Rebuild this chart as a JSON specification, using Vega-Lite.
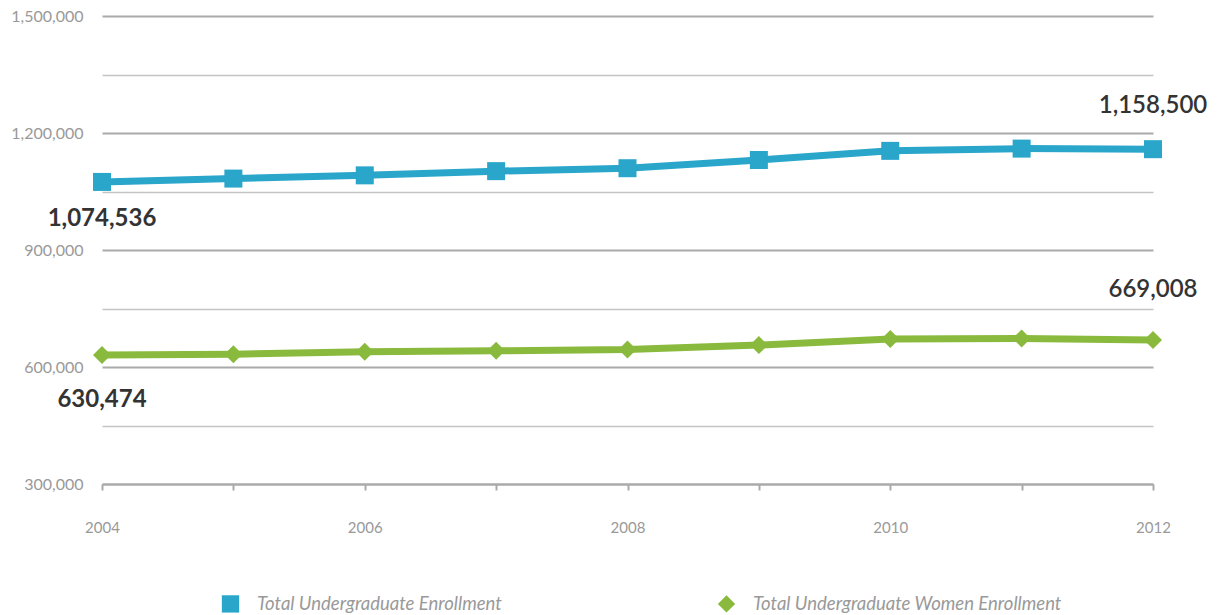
{
  "$schema": "https://vega.github.io/schema/vega-lite/v6.json",
  "width": 1051,
  "height": 468,
  "padding": {"left": 10, "top": 8, "right": 0, "bottom": 0},
  "background": "white",
  "config": {"view": {"stroke": null}},
  "data": {"values": [
      {"year": 2004, "series": "Total Undergraduate Enrollment", "value": 1074536},
      {"year": 2005, "series": "Total Undergraduate Enrollment", "value": 1083100},
      {"year": 2006, "series": "Total Undergraduate Enrollment", "value": 1091400},
      {"year": 2007, "series": "Total Undergraduate Enrollment", "value": 1102200},
      {"year": 2008, "series": "Total Undergraduate Enrollment", "value": 1109700},
      {"year": 2009, "series": "Total Undergraduate Enrollment", "value": 1130800},
      {"year": 2010, "series": "Total Undergraduate Enrollment", "value": 1154200},
      {"year": 2011, "series": "Total Undergraduate Enrollment", "value": 1160000},
      {"year": 2012, "series": "Total Undergraduate Enrollment", "value": 1158500},
      {"year": 2004, "series": "Total Undergraduate Women Enrollment", "value": 630474},
      {"year": 2005, "series": "Total Undergraduate Women Enrollment", "value": 633000},
      {"year": 2006, "series": "Total Undergraduate Women Enrollment", "value": 639000},
      {"year": 2007, "series": "Total Undergraduate Women Enrollment", "value": 641500},
      {"year": 2008, "series": "Total Undergraduate Women Enrollment", "value": 644900},
      {"year": 2009, "series": "Total Undergraduate Women Enrollment", "value": 656200},
      {"year": 2010, "series": "Total Undergraduate Women Enrollment", "value": 671600},
      {"year": 2011, "series": "Total Undergraduate Women Enrollment", "value": 673100},
      {"year": 2012, "series": "Total Undergraduate Women Enrollment", "value": 669008}
  ]},
  "layer": [
    {
      "mark": {"type": "line", "strokeWidth": 7},
      "encoding": {
        "x": {
          "field": "year", "type": "quantitative",
          "scale": {"domain": [2004, 2012], "nice": false, "zero": false},
          "axis": {
            "title": null,
            "values": [2004, 2005, 2006, 2007, 2008, 2009, 2010, 2011, 2012],
            "labelExpr": "datum.value % 2 === 0 ? datum.value + '' : ''",
            "labelFlush": false,
            "grid": false,
            "domainColor": "#aaaaaa",
            "domainWidth": 2,
            "tickColor": "#aaaaaa",
            "tickWidth": 2,
            "tickSize": 6,
            "labelPadding": 30,
            "labelFontSize": 15,
            "labelColor": "#999999",
            "labelFont": "Lato"
          }
        },
        "y": {
          "field": "value", "type": "quantitative",
          "scale": {"domain": [300000, 1500000], "nice": false, "zero": false},
          "axis": {
            "title": null,
            "values": [300000, 450000, 600000, 750000, 900000, 1050000, 1200000, 1350000, 1500000],
            "labelExpr": "datum.value % 300000 === 0 ? format(datum.value, ',') : ''",
            "domain": false,
            "ticks": false,
            "grid": true,
            "gridColor": {"condition": {"test": "datum.value % 300000 === 0", "value": "#aaaaaa"}, "value": "#c4c4c4"},
            "gridWidth": {"condition": {"test": "datum.value % 300000 === 0", "value": 2}, "value": 1.5},
            "labelPadding": 19,
            "labelFontSize": 16,
            "labelColor": "#999999",
            "labelFont": "Lato"
          }
        },
        "stroke": {
          "field": "series", "type": "nominal",
          "scale": {"range": ["#29a6ca", "#8aba3d"]},
          "legend": null
        }
      }
    },
    {
      "mark": {"type": "point", "filled": true, "size": 324},
      "encoding": {
        "x": {"field": "year", "type": "quantitative"},
        "y": {"field": "value", "type": "quantitative"},
        "color": {
          "field": "series", "type": "nominal",
          "scale": {"range": ["#29a6ca", "#8aba3d"]},
          "legend": {
            "title": null,
            "orient": "none",
            "legendX": 119,
            "legendY": 578,
            "direction": "horizontal",
            "columnPadding": 212,
            "labelOffset": 17,
            "labelFontSize": 18.5,
            "labelFontStyle": "italic",
            "labelFont": "Lato",
            "labelColor": "#999999",
            "labelLimit": 400,
            "symbolSize": 300,
            "symbolOpacity": 1
          }
        },
        "shape": {
          "field": "series", "type": "nominal",
          "scale": {"range": ["square", "diamond"]}
        },
        "opacity": {"value": 1}
      }
    },
    {
      "transform": [{"filter": "datum.year === 2004 && datum.value > 900000"}],
      "mark": {"type": "text", "dy": 37, "fontSize": 24, "fontWeight": "bold", "color": "#333333", "font": "Lato"},
      "encoding": {
        "x": {"field": "year", "type": "quantitative"},
        "y": {"field": "value", "type": "quantitative"},
        "text": {"field": "value", "type": "quantitative", "format": ","}
      }
    },
    {
      "transform": [{"filter": "datum.year === 2004 && datum.value < 900000"}],
      "mark": {"type": "text", "dy": 45, "fontSize": 24, "fontWeight": "bold", "color": "#333333", "font": "Lato"},
      "encoding": {
        "x": {"field": "year", "type": "quantitative"},
        "y": {"field": "value", "type": "quantitative"},
        "text": {"field": "value", "type": "quantitative", "format": ","}
      }
    },
    {
      "transform": [{"filter": "datum.year === 2012 && datum.value > 900000"}],
      "mark": {"type": "text", "dy": -43, "fontSize": 24, "fontWeight": 600, "color": "#333333", "font": "Lato"},
      "encoding": {
        "x": {"field": "year", "type": "quantitative"},
        "y": {"field": "value", "type": "quantitative"},
        "text": {"field": "value", "type": "quantitative", "format": ","}
      }
    },
    {
      "transform": [{"filter": "datum.year === 2012 && datum.value < 900000"}],
      "mark": {"type": "text", "dy": -50, "fontSize": 24, "fontWeight": 600, "color": "#333333", "font": "Lato"},
      "encoding": {
        "x": {"field": "year", "type": "quantitative"},
        "y": {"field": "value", "type": "quantitative"},
        "text": {"field": "value", "type": "quantitative", "format": ","}
      }
    }
  ]
}
